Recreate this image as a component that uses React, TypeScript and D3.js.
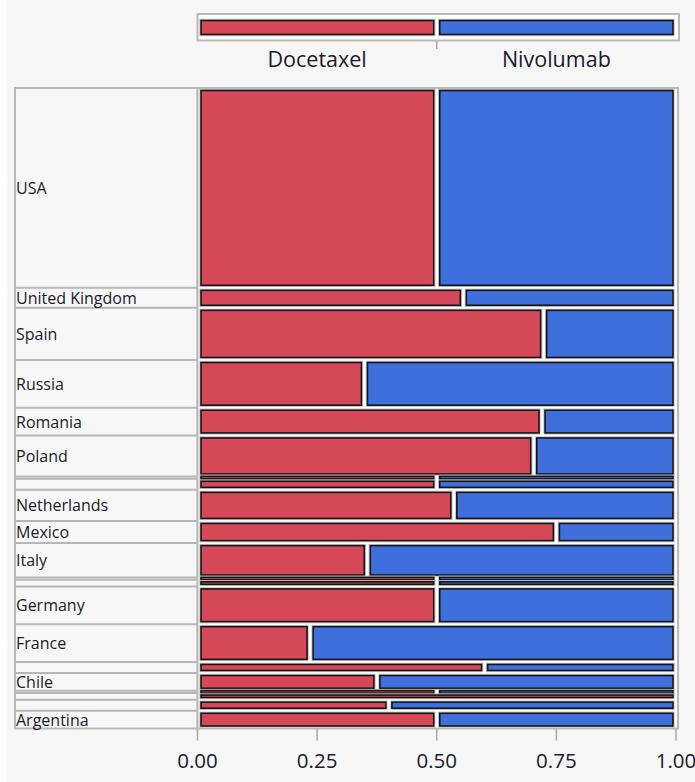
import React from "react";
import * as d3 from "d3";

// Patients by country (rows, top to bottom) and treatment arm
const countries = [
  "USA", "United Kingdom", "Spain", "Russia", "Romania", "Poland", "Peru", "Norway",
  "Netherlands", "Mexico", "Italy", "Ireland", "Hungary", "Germany", "France",
  "Czech Republic", "Chile", "Canada", "Brazil", "Australia", "Argentina",
];
const docetaxel = [90, 10, 34, 15, 18, 26, 1, 5, 15, 15, 11, 1, 3, 17, 8, 6, 6, 1, 6, 4, 8];
const nivolumab = [90, 8, 13, 28, 7, 11, 1, 5, 13, 5, 20, 1, 3, 17, 26, 4, 10, 1, 0, 6, 8];
const arms = ["Docetaxel", "Nivolumab"];
const tickValues = [0, 0.25, 0.5, 0.75, 1];

const RED = "#D54858";
const BLUE = "#3F6FDC";
const INK = "#1a1a2a";
const FONT = "'Open Sans', 'Noto Sans', sans-serif";

export default function App() {
  const W = 695;
  const H = 782;
  const plotLeft = 197.5;
  const plotRight = 676;
  const plotTop = 88;
  const plotBottom = 728.5;
  const labelLeft = 15;

  const totals = countries.map((_, i) => docetaxel[i] + nivolumab[i]);
  const N = d3.sum(totals);
  const x = d3.scaleLinear().domain([0, 1]).range([plotLeft, plotRight]);
  const y = d3.scaleLinear().domain([0, N]).range([plotTop, plotBottom]);
  const cum = d3.cumsum([0, ...totals]);

  const rows = countries.map((name, i) => {
    const y0 = y(cum[i]);
    const y1 = y(cum[i + 1]);
    const p = docetaxel[i] / totals[i];
    let h = y1 - y0 - 5;
    if (h < 2.5) h = 2.5;
    const top = (y0 + y1) / 2 - h / 2;
    return { name, y0, y1, p, top, h };
  });

  const pad = 3;

  const bar = (key: string, x0: number, x1: number, top: number, h: number, fill: string) => (
    <g key={key}>
      <rect x={x0 - 1.2} y={top - 1.2} width={x1 - x0 + 2.4} height={h + 2.4} fill="none" stroke="#c4c4c4" strokeWidth={1} />
      <rect x={x0} y={top} width={x1 - x0} height={h} fill={fill} stroke="#141414" strokeWidth={1.6} />
    </g>
  );

  return (
    <svg width={W} height={H} style={{ position: "absolute", left: 0, top: 0 }} fontFamily={FONT}>
      <rect x={0} y={0} width={W} height={H} fill="#ffffff" />
      <rect x={7} y={0} width={W - 7} height={H} fill="#f6f6f6" />

      {/* legend strip */}
      <rect x={plotLeft} y={14} width={plotRight - plotLeft + 3} height={26.5} fill="#ffffff" stroke="#b9b9b9" strokeWidth={2} />
      {bar("lg-red", x(0) + 3.5, x(0.5) - pad, 20.5, 14, RED)}
      {bar("lg-blue", x(0.5) + pad, x(1) - pad, 20.5, 14, BLUE)}
      <line x1={x(0.5)} x2={x(0.5)} y1={41} y2={49} stroke="#a8a8a8" strokeWidth={1.5} />
      {arms.map((a, i) => (
        <text key={a} x={x(i === 0 ? 0.25 : 0.75)} y={67} textAnchor="middle" fontSize={21.5} fill={INK}>
          {a}
        </text>
      ))}

      {/* label column */}
      <rect x={labelLeft} y={plotTop} width={plotLeft - labelLeft} height={plotBottom - plotTop} fill="#f7f7f7" stroke="#b9b9b9" strokeWidth={2} />
      {rows.slice(1).map((r, i) => (
        <line key={"sep" + i} x1={labelLeft} x2={plotLeft} y1={r.y0} y2={r.y0} stroke="#b6b6b6" strokeWidth={2} />
      ))}
      {rows.map((r) =>
        r.y1 - r.y0 >= 14 ? (
          <text key={"lab" + r.name} x={labelLeft + 1} y={(r.y0 + r.y1) / 2 + 6} fontSize={16} fill={INK}>
            {r.name}
          </text>
        ) : null
      )}

      {/* mosaic */}
      <rect x={plotLeft} y={plotTop} width={plotRight - plotLeft + 2} height={plotBottom - plotTop} fill="#ffffff" stroke="#b9b9b9" strokeWidth={2} />
      {rows.map((r) => (
        <g key={"row" + r.name}>
          {r.p > 0 && bar("r" + r.name, x(0) + 3.5, r.p < 1 ? x(r.p) - pad : x(1) - pad, r.top, r.h, RED)}
          {r.p < 1 && bar("b" + r.name, r.p > 0 ? x(r.p) + pad : x(0) + 3.5, x(1) - pad, r.top, r.h, BLUE)}
        </g>
      ))}

      {/* x axis */}
      {tickValues.map((t) => (
        <g key={"t" + t}>
          <line x1={x(t)} x2={x(t)} y1={plotBottom} y2={plotBottom + 12} stroke="#a8a8a8" strokeWidth={1.5} />
          <text x={x(t)} y={768} textAnchor="middle" fontSize={20.5} fill={INK}>
            {d3.format(".2f")(t)}
          </text>
        </g>
      ))}
    </svg>
  );
}
